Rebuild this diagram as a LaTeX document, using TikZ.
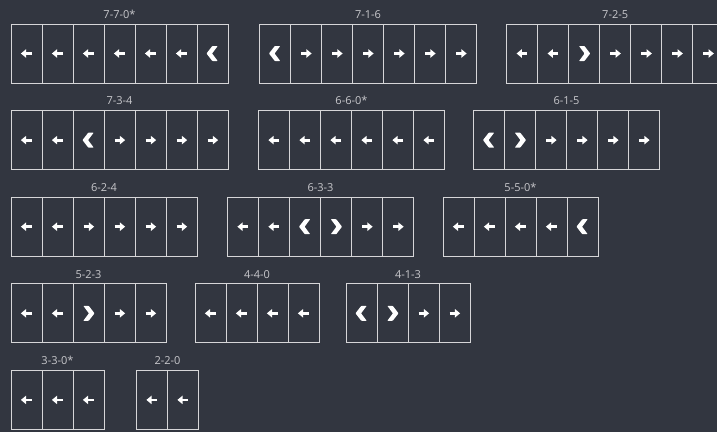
\documentclass[tikz,border=0pt]{standalone}
\usepackage{fontspec}
\setmainfont{Open Sans}
\definecolor{bgdark}{RGB}{50,54,64}
\definecolor{rulegray}{RGB}{214,214,216}
\definecolor{taggray}{RGB}{200,200,204}
\tikzset{
  cell/.style={draw=rulegray,line width=.9pt,minimum width=31pt,minimum height=59pt,inner sep=0pt,outer sep=0pt},
  tag/.style={text=taggray,font=\fontsize{11}{13}\selectfont,anchor=base,inner sep=0pt},
  pics/aw/.style={code={
    \draw[white,line width=2.8pt] (5,0)--(-1,0);
    \fill[white] (-5.6,0)--(-.4,-4.3)--(-.4,4.3)--cycle;}},
  pics/ae/.style={code={
    \draw[white,line width=2.8pt] (-5,0)--(1,0);
    \fill[white] (5.6,0)--(.4,-4.3)--(.4,4.3)--cycle;}},
  pics/cw/.style={code={
    \fill[white,rounded corners=.6pt] (-6,0)--(-.2,-7.5)--(5.2,-7.5)--(-.4,0)--(5.2,7.5)--(-.2,7.5)--cycle;}},
  pics/ce/.style={code={
    \fill[white,rounded corners=.6pt] (6,0)--(.2,-7.5)--(-5.2,-7.5)--(.4,0)--(-5.2,7.5)--(.2,7.5)--cycle;}},
}
% x, y (top left), cells, label, name, list
\newcommand\panel[6]{%
  \node[tag] (#5) at ({#1+15.5*#3},{#2-5.7}) {#4};
  \foreach \k [count=\i from 0] in {#6}{
    \node[cell] (#5-\i) at ({#1+31*\i+15.5},{#2+29.5}) {};
    \path (#5-\i) pic {\k};
  }%
}
\begin{document}
\begin{tikzpicture}[x=1pt,y=-1pt]
  \fill[bgdark] (0,0) rectangle (717,432);
  \useasboundingbox (0,0) rectangle (717,432);
  \clip (0,0) rectangle (717,432);
  % row 1
  \panel{11}{24}{7}{7-7-0*}{s770}{aw,aw,aw,aw,aw,aw,cw}
  \panel{259.5}{24}{7}{7-1-6}{s716}{cw,ae,ae,ae,ae,ae,ae}
  \panel{506.7}{24}{7}{7-2-5}{s725}{aw,aw,ce,ae,ae,ae,ae}
  % row 2
  \panel{11}{110.6}{7}{7-3-4}{s734}{aw,aw,cw,ae,ae,ae,ae}
  \panel{258.5}{110.6}{6}{6-6-0*}{s660}{aw,aw,aw,aw,aw,aw}
  \panel{473.5}{110.6}{6}{6-1-5}{s615}{cw,ce,ae,ae,ae,ae}
  % row 3
  \panel{11}{197.2}{6}{6-2-4}{s624}{aw,aw,ae,ae,ae,ae}
  \panel{227.5}{197.2}{6}{6-3-3}{s633}{aw,aw,cw,ce,ae,ae}
  \panel{443}{197.2}{5}{5-5-0*}{s550}{aw,aw,aw,aw,cw}
  % row 4
  \panel{11}{283.8}{5}{5-2-3}{s523}{aw,aw,ce,ae,ae}
  \panel{195}{283.8}{4}{4-4-0}{s440}{aw,aw,aw,aw}
  \panel{346}{283.8}{4}{4-1-3}{s413}{cw,ce,ae,ae}
  % row 5
  \panel{11}{370.4}{3}{3-3-0*}{s330}{aw,aw,aw}
  \panel{136.5}{370.4}{2}{2-2-0}{s220}{aw,aw}
\end{tikzpicture}
\end{document}
